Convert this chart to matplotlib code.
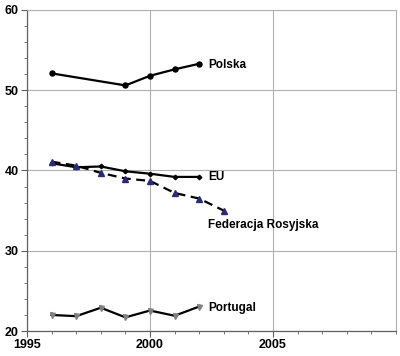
import numpy as np
import matplotlib
matplotlib.use("Agg")
import matplotlib.pyplot as plt
from matplotlib.ticker import MultipleLocator

plt.rcParams['font.family'] = ['Liberation Sans', 'DejaVu Sans']

# values
pl_years = [1996, 1999, 2000, 2001, 2002]
pl_vals = [52.1, 50.6, 51.8, 52.6, 53.3]

eu_years = [1996, 1997, 1998, 1999, 2000, 2001, 2002]
eu_vals = [40.9, 40.4, 40.5, 39.9, 39.6, 39.2, 39.2]

ru_years = [1996, 1997, 1998, 1999, 2000, 2001, 2002, 2003]
ru_vals = [41.1, 40.6, 39.7, 39.0, 38.7, 37.2, 36.5, 35.0]

pt_years = [1996, 1997, 1998, 1999, 2000, 2001, 2002]
pt_vals = [22.0, 21.85, 22.9, 21.7, 22.55, 21.9, 23.05]

fig = plt.figure(figsize=(4.0, 3.56), dpi=100)
ax = fig.add_axes([0.0675, 0.0702, 0.9225, 0.9018])

ax.plot(pl_years, pl_vals, color='black', lw=1.6, marker='o', ms=3.6, zorder=3)
ax.plot(eu_years, eu_vals, color='black', lw=1.6, marker='D', ms=2.3, zorder=3)
ax.plot(ru_years, ru_vals, color='black', lw=1.6, ls=(0, (4, 2.5)), marker='^',
        ms=4.2, mfc='#2a2a7a', mec='#2a2a7a', zorder=3)
ax.plot(pt_years, pt_vals, color='black', lw=1.6, marker='v', ms=3.6,
        mfc='#808080', mec='#808080', zorder=3)

lab = dict(fontsize=8.5, fontweight='bold', va='center', ha='left')
ax.text(2002.35, 53.15, 'Polska', **lab)
ax.text(2002.35, 39.2, 'EU', **lab)
ax.text(2002.35, 33.2, 'Federacja Rosyjska', **lab)
ax.text(2002.35, 22.9, 'Portugal', **lab)

ax.set_xlim(1995, 2010)
ax.set_ylim(20, 60)
ax.xaxis.set_major_locator(MultipleLocator(5))
ax.xaxis.set_minor_locator(MultipleLocator(1))
ax.yaxis.set_major_locator(MultipleLocator(10))
ax.yaxis.set_minor_locator(MultipleLocator(2))
ax.set_xticks([1995, 2000, 2005])
ax.grid(True, which='major', color='#b0b0b0', lw=0.8)
ax.set_axisbelow(True)

for s in ['top', 'right']:
    ax.spines[s].set_color('#b0b0b0')
    ax.spines[s].set_linewidth(0.8)
for s in ['left', 'bottom']:
    ax.spines[s].set_color('#606060')
    ax.spines[s].set_linewidth(0.9)

ax.tick_params(which='major', length=4, direction='out', color='#606060',
               labelsize=9, pad=2)
ax.tick_params(which='minor', length=2.5, direction='out', color='#606060')
for t in ax.get_xticklabels() + ax.get_yticklabels():
    t.set_fontweight('bold')

fig.savefig('out.png', dpi=100)
